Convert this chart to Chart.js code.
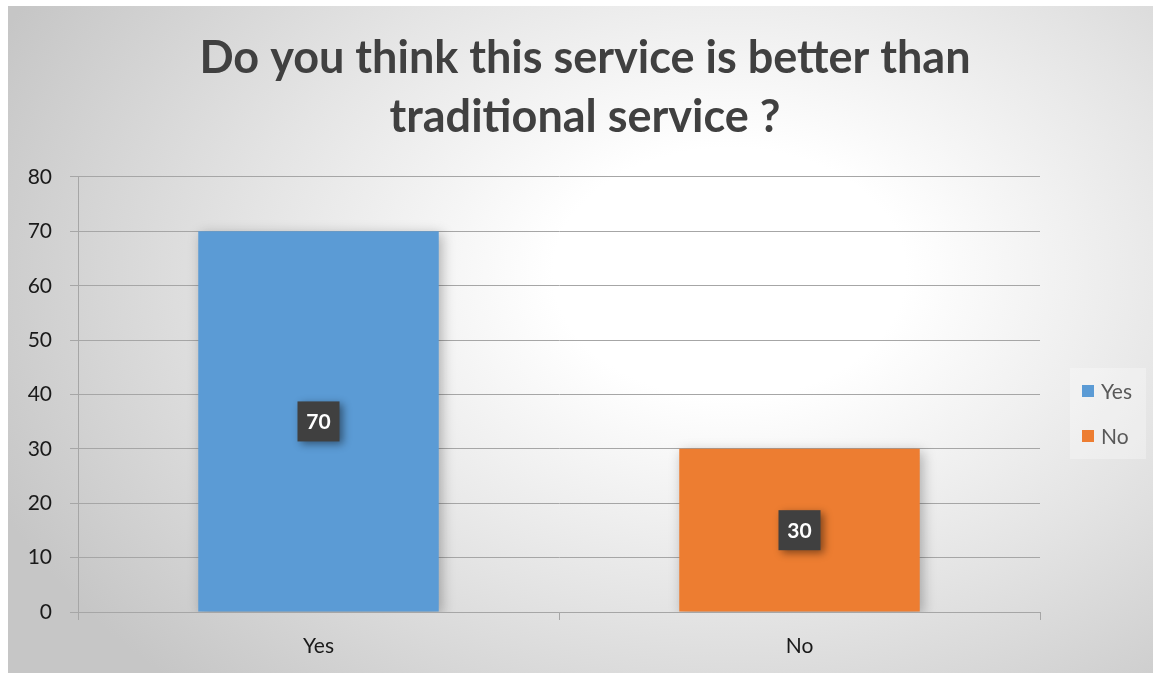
<!DOCTYPE html>
<html>
<head>
<meta charset="utf-8">
<script src="https://cdn.jsdelivr.net/npm/chart.js@4"></script>
<style>
  html, body { margin: 0; padding: 0; background: #fff; }
  #panel {
    position: absolute; left: 8px; top: 6px; width: 1145px; height: 667px;
    background: radial-gradient(ellipse 70% 85% at 63% 40%, #ffffff 0%, #ffffff 22%, #e4e4e4 60%, #c6c6c6 100%);
  }
</style>
</head>
<body>
<div id="panel"><canvas id="grafico" width="1145" height="667"></canvas></div>
<script>
// datos del grafico
const categorias = ['Yes', 'No'];
const valoresYes = [70, null];
const valoresNo = [null, 30];
const ticksY = [0, 10, 20, 30, 40, 50, 60, 70, 80];
const titulo = ['Do you think this service is better than', 'traditional service ?'];

const colorYes = '#5b9bd5';
const colorNo = '#ed7d31';
const fuente = 'Lato, "Open Sans", sans-serif';

// sombra suave para las barras
const sombraBarras = {
    id: 'sombraBarras',
    beforeDatasetsDraw(chart) {
        const c = chart.ctx;
        c.save();
        c.shadowColor = 'rgba(0,0,0,0.28)';
        c.shadowBlur = 12;
        c.shadowOffsetX = 3;
        c.shadowOffsetY = 3;
    },
    afterDatasetsDraw(chart) {
        chart.ctx.restore();
    }
};

// etiquetas con caja oscura en el centro de cada barra
const etiquetas = {
    id: 'etiquetas',
    afterDatasetsDraw(chart) {
        const c = chart.ctx;
        chart.data.datasets.forEach((ds, i) => {
            chart.getDatasetMeta(i).data.forEach((bar, j) => {
                const v = ds.data[j];
                if (v === null) return;
                const cx = bar.x;
                const cy = (bar.y + bar.base) / 2;
                c.save();
                c.shadowColor = 'rgba(0,0,0,0.45)';
                c.shadowBlur = 8;
                c.shadowOffsetX = 3;
                c.shadowOffsetY = 3;
                c.fillStyle = '#404040';
                c.fillRect(cx - 21, cy - 20, 42, 40);
                c.restore();
                c.save();
                c.fillStyle = '#ffffff';
                c.font = 'bold 21px ' + fuente;
                c.textAlign = 'center';
                c.textBaseline = 'middle';
                c.fillText(String(v), cx, cy + 1);
                c.restore();
            });
        });
    }
};

// leyenda a la derecha
const leyenda = {
    id: 'leyenda',
    afterDraw(chart) {
        const c = chart.ctx;
        const x0 = 1062, y0 = 362;
        c.save();
        c.fillStyle = 'rgba(255,255,255,0.3)';
        c.fillRect(x0, y0, 76, 91);
        c.font = '21px ' + fuente;
        c.textBaseline = 'middle';
        chart.data.datasets.forEach((ds, i) => {
            const y = y0 + 23 + i * 45;
            c.fillStyle = ds.backgroundColor;
            c.fillRect(x0 + 12, y - 6, 12, 12);
            c.fillStyle = '#595959';
            c.fillText(ds.label, x0 + 31, y + 1);
        });
        c.restore();
    }
};

const datos = {
    labels: categorias,
    datasets: [
        { label: 'Yes', data: valoresYes, backgroundColor: colorYes },
        { label: 'No', data: valoresNo, backgroundColor: colorNo }
    ]
};

new Chart(document.getElementById('grafico'), {
    type: 'bar',
    data: datos,
    plugins: [sombraBarras, etiquetas, leyenda],
    options: {
        responsive: false,
        animation: false,
        layout: { padding: { left: 9, right: 0, top: 0, bottom: 0 } },
        datasets: { bar: { categoryPercentage: 1, barPercentage: 0.5 } },
        plugins: {
            legend: { display: false },
            tooltip: { enabled: false },
            title: {
                display: true,
                text: titulo,
                color: '#404040',
                font: { family: fuente, size: 45, weight: 'bold', lineHeight: 1.311 },
                padding: { top: 23, bottom: 30 }
            }
        },
        scales: {
            x: {
                stacked: true,
                offset: true,
                grid: {
                    offset: true,
                    drawOnChartArea: false,
                    drawTicks: true,
                    tickLength: 8,
                    color: '#a6a6a6'
                },
                border: { color: '#a6a6a6', width: 1 },
                ticks: { color: '#1a1a1a', padding: 14, font: { family: fuente, size: 21 } },
                afterFit(s) { s.height = 61; }
            },
            y: {
                stacked: true,
                min: 0,
                max: 80,
                afterBuildTicks(s) { s.ticks = ticksY.map(v => ({ value: v })); },
                grid: { color: '#a6a6a6', tickLength: 8 },
                border: { color: '#a6a6a6', width: 1 },
                ticks: { color: '#1a1a1a', padding: 18, font: { family: fuente, size: 21 } },
                afterFit(s) { s.width = 61; }
            },
            // eje vacio a la derecha: deja el espacio de la leyenda
            espacio: {
                type: 'linear',
                position: 'right',
                grid: { display: false },
                border: { display: false },
                ticks: { display: false },
                afterFit(s) { s.width = 113; }
            }
        }
    }
});
</script>
</body>
</html>
